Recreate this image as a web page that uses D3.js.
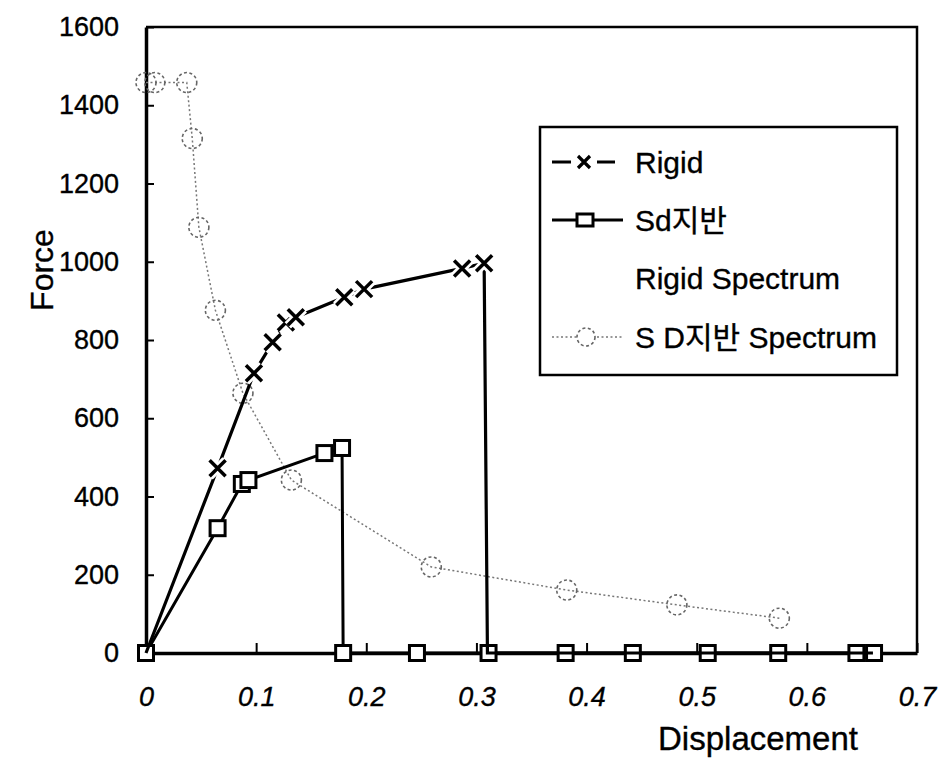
<!DOCTYPE html>
<html><head><meta charset="utf-8">
<script src="https://cdn.jsdelivr.net/npm/d3@7"></script>
<style>
body{margin:0;background:#fff;}
text{font-family:"Liberation Sans","Noto Sans CJK KR",Arial,sans-serif;fill:#000;stroke:#000;stroke-width:0.35px;}
</style></head>
<body>
<svg id="chart" width="941" height="760"></svg>
<script>
// ---- data ----
const xTicks = [0, 0.1, 0.2, 0.3, 0.4, 0.5, 0.6, 0.7];
const yTicks = [0, 200, 400, 600, 800, 1000, 1200, 1400, 1600];

const rigidX = [0, 0.065, 0.098, 0.115, 0.127, 0.136, 0.180, 0.198, 0.287, 0.307, 0.310, 0.66];
const rigidY = [0, 472, 715, 794, 845, 858, 909, 930, 983, 996, 0, 0];
const rigidMark = [false, true, true, true, true, true, true, true, true, true, false, false];

const sdX = [0, 0.065, 0.087, 0.093, 0.162, 0.178, 0.179, 0.246, 0.311, 0.381, 0.442, 0.510, 0.574, 0.645, 0.661];
const sdY = [0, 319, 432, 442, 511, 524, 0, 0, 0, 0, 0, 0, 0, 0, 0];

const specX = [0, 0.008, 0.037, 0.042, 0.048, 0.063, 0.088, 0.132, 0.259, 0.382, 0.482, 0.575];
const specY = [1458, 1458, 1458, 1315, 1088, 876, 664, 442, 220, 161, 123, 89];

const legendLabels = ["Rigid", "Sd지반", "Rigid Spectrum", "S D지반 Spectrum"];

// ---- chart ----
const svg = d3.select("#chart");
const x = d3.scaleLinear().domain([0, 0.7]).range([146, 917]);
const y = d3.scaleLinear().domain([0, 1600]).range([653, 27]);

// frame (top/right)
svg.append("path")
  .attr("d", `M${x(0)},${y(1600)}H${x(0.7)}V${y(0)}`)
  .attr("fill", "none").attr("stroke", "#000").attr("stroke-width", 2.5);

// y axis
const yAxis = svg.append("g").attr("transform", `translate(${x(0)},0)`)
  .call(d3.axisLeft(y).tickValues(yTicks).tickSizeInner(-8).tickSizeOuter(0).tickPadding(27).tickFormat(d3.format("d")));
yAxis.select(".domain").attr("stroke-width", 3.5);
yAxis.selectAll(".tick line").attr("stroke-width", 2);
yAxis.selectAll("text").attr("font-size", 27).attr("fill", "#000");

// x axis
const xAxis = svg.append("g").attr("transform", `translate(0,${y(0)})`)
  .call(d3.axisBottom(x).tickValues(xTicks).tickSizeInner(-10).tickSizeOuter(0).tickPadding(34)
    .tickFormat(d => d === 0 ? "0" : d3.format(".1f")(d)));
xAxis.select(".domain").attr("stroke-width", 3.5);
xAxis.selectAll(".tick line").attr("stroke-width", 2);
xAxis.selectAll("text").attr("font-size", 27).attr("font-style", "italic").attr("fill", "#000");

// axis titles
svg.append("text").attr("transform", "translate(42,270) rotate(-90)")
  .attr("text-anchor", "middle").attr("dy", "0.35em").attr("font-size", 32).text("Force");
svg.append("text").attr("x", 758).attr("y", 738).attr("dy", "0.35em")
  .attr("text-anchor", "middle").attr("font-size", 33).text("Displacement");

// SD spectrum
const spec = specX.map((v, i) => [v, specY[i]]);
svg.append("path").datum(spec)
  .attr("d", d3.line().x(d => x(d[0])).y(d => y(d[1])))
  .attr("fill", "none").attr("stroke", "#777").attr("stroke-width", 1.5).attr("stroke-dasharray", "2,2.5");
svg.append("g").selectAll("circle").data(spec).join("circle")
  .attr("cx", d => x(d[0])).attr("cy", d => y(d[1])).attr("r", 10)
  .attr("fill", "none").attr("stroke", "#666").attr("stroke-width", 1.6).attr("stroke-dasharray", "3,2.5");

// Sd지반
const sd = sdX.map((v, i) => [v, sdY[i]]);
svg.append("path").datum(sd)
  .attr("d", d3.line().x(d => x(d[0])).y(d => y(d[1])))
  .attr("fill", "none").attr("stroke", "#000").attr("stroke-width", 3);
svg.append("g").selectAll("rect").data(sd).join("rect")
  .attr("x", d => x(d[0]) - 7.5).attr("y", d => y(d[1]) - 7.5).attr("width", 15).attr("height", 15)
  .attr("fill", "#fff").attr("stroke", "#000").attr("stroke-width", 3);

// Rigid
const rigid = rigidX.map((v, i) => [v, rigidY[i], rigidMark[i]]);
svg.append("path").datum(rigid)
  .attr("d", d3.line().x(d => x(d[0])).y(d => y(d[1])))
  .attr("fill", "none").attr("stroke", "#000").attr("stroke-width", 3.2);
const crossPath = "M-8,-8L8,8M-8,8L8,-8";
const marks = svg.append("g").selectAll("g").data(rigid.filter(d => d[2])).join("g")
  .attr("transform", d => `translate(${x(d[0])},${y(d[1])})`);
marks.append("path").attr("d", crossPath).attr("stroke", "#fff").attr("stroke-width", 9);
marks.append("path").attr("d", crossPath).attr("stroke", "#000").attr("stroke-width", 3.5);

// legend
const lg = svg.append("g");
lg.append("rect").attr("x", 540).attr("y", 127).attr("width", 357).attr("height", 248)
  .attr("fill", "#fff").attr("stroke", "#000").attr("stroke-width", 2.5);
const rowsY = [162, 220, 278, 337];
lg.selectAll("text").data(legendLabels).join("text")
  .attr("x", 635).attr("y", (d, i) => rowsY[i]).attr("dy", "0.35em")
  .attr("font-size", 30).text(d => d);
// Rigid symbol
lg.append("path").attr("d", `M552,${rowsY[0]}H571M597,${rowsY[0]}H615`).attr("stroke", "#000").attr("stroke-width", 3.2);
lg.append("path").attr("d", "M-6,-6L6,6M-6,6L6,-6").attr("transform", `translate(584,${rowsY[0]})`)
  .attr("stroke", "#000").attr("stroke-width", 3.2);
// Sd symbol
lg.append("path").attr("d", `M552,${rowsY[1]}H623`).attr("stroke", "#000").attr("stroke-width", 3);
lg.append("rect").attr("x", 577).attr("y", rowsY[1] - 6).attr("width", 16).attr("height", 12)
  .attr("fill", "#fff").attr("stroke", "#000").attr("stroke-width", 3);
// SD spectrum symbol
lg.append("path").attr("d", `M552,${rowsY[3]}H623`).attr("stroke", "#777").attr("stroke-width", 1.5).attr("stroke-dasharray", "2,2.5");
lg.append("circle").attr("cx", 586).attr("cy", rowsY[3]).attr("r", 9)
  .attr("fill", "#fff").attr("stroke", "#666").attr("stroke-width", 1.6).attr("stroke-dasharray", "3,2.5");
</script>
</body></html>
